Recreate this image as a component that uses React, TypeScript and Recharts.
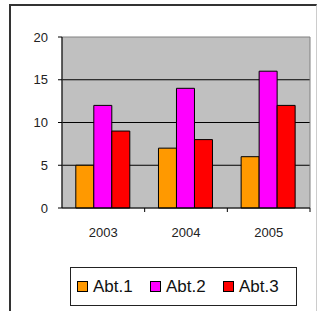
import React from 'react'
import {
  BarChart, Bar, XAxis, YAxis, CartesianGrid, Legend, ReferenceArea
} from 'recharts'

const years = ['2003', '2004', '2005']
const abt1 = [5, 7, 6]
const abt2 = [12, 14, 16]
const abt3 = [9, 8, 12]
const yTicks = [0, 5, 10, 15, 20]

const seriesNames = ['Abt.1', 'Abt.2', 'Abt.3']
const seriesColors = ['#FF9900', '#FF00FF', '#FF0000']

const data = years.map((year, i) => ({
  year,
  'Abt.1': abt1[i],
  'Abt.2': abt2[i],
  'Abt.3': abt3[i],
}))

const font = '"Liberation Sans", Arial, sans-serif'

// Excel puts the x tick marks between categories, so draw them from the tick itself
const YearTick = (props: any) => {
  const { x, y, payload, width, visibleTicksCount } = props
  const half = width && visibleTicksCount ? width / visibleTicksCount / 2 : 41
  return (
    <g>
      <line x1={x + half} y1={y - 8} x2={x + half} y2={y - 4} stroke="#000" />
      <text x={x} y={y + 21} textAnchor="middle" fontSize={13} fill="#222" fontFamily={font}>
        {payload.value}
      </text>
    </g>
  )
}

const LegendBox = (props: any) => {
  const { payload } = props
  return (
    <div
      style={{
        boxSizing: 'border-box',
        width: 227,
        height: 39,
        border: '1px solid #222',
        background: '#fff',
        display: 'flex',
        alignItems: 'center',
        paddingLeft: 6,
        fontFamily: font,
        fontSize: 17,
        color: '#111',
      }}
    >
      {(payload || []).map((entry: any) => (
        <div key={entry.value} style={{ display: 'flex', alignItems: 'center', width: 76 }}>
          <span
            style={{
              display: 'inline-block',
              width: 9,
              height: 9,
              background: entry.color,
              border: '1px solid #000',
              marginRight: 5,
            }}
          />
          <span>{entry.value}</span>
        </div>
      ))}
    </div>
  )
}

export default function App() {
  return (
    <div style={{ position: 'absolute', left: 0, top: 0, width: 320, height: 311, background: '#fff' }}>
      <div
        style={{
          position: 'absolute',
          left: 9,
          top: 4,
          width: 305,
          height: 305,
          borderTop: '2px solid #333',
          borderLeft: '2px solid #333',
          borderRight: '1px solid #ccc',
          borderBottom: '1px solid #ccc',
        }}
      />
      <div style={{ position: 'absolute', left: 0, top: 0 }}>
        <BarChart
          width={320}
          height={311}
          data={data}
          margin={{ top: 37, right: 10, left: 0, bottom: 34 }}
          barGap={0}
          barCategoryGap="16.7%"
        >
          <CartesianGrid
            vertical={false}
            horizontalValues={[5, 10, 15]}
            stroke="#000"
            fill="#C0C0C0"
            fillOpacity={1}
          />
          <ReferenceArea y1={0} y2={20} fill="none" stroke="#808080" ifOverflow="visible" />
          <XAxis
            dataKey="year"
            axisLine={{ stroke: '#000' }}
            tickLine={false}
            tick={<YearTick />}
            height={30}
            interval={0}
          />
          <YAxis
            domain={[0, 20]}
            ticks={yTicks}
            width={62}
            axisLine={{ stroke: '#000' }}
            tickLine={{ stroke: '#000' }}
            tickSize={4}
            tickMargin={10}
            tick={{ fontSize: 13, fill: '#222', fontFamily: font }}
          />
          <Legend
            content={<LegendBox />}
            wrapperStyle={{ position: 'absolute', left: 70, top: 267, width: 227, height: 39 }}
          />
          {seriesNames.map((name, i) => (
            <Bar
              key={name}
              dataKey={name}
              fill={seriesColors[i]}
              stroke="#000"
              strokeWidth={1}
              isAnimationActive={false}
            />
          ))}
        </BarChart>
      </div>
    </div>
  )
}
